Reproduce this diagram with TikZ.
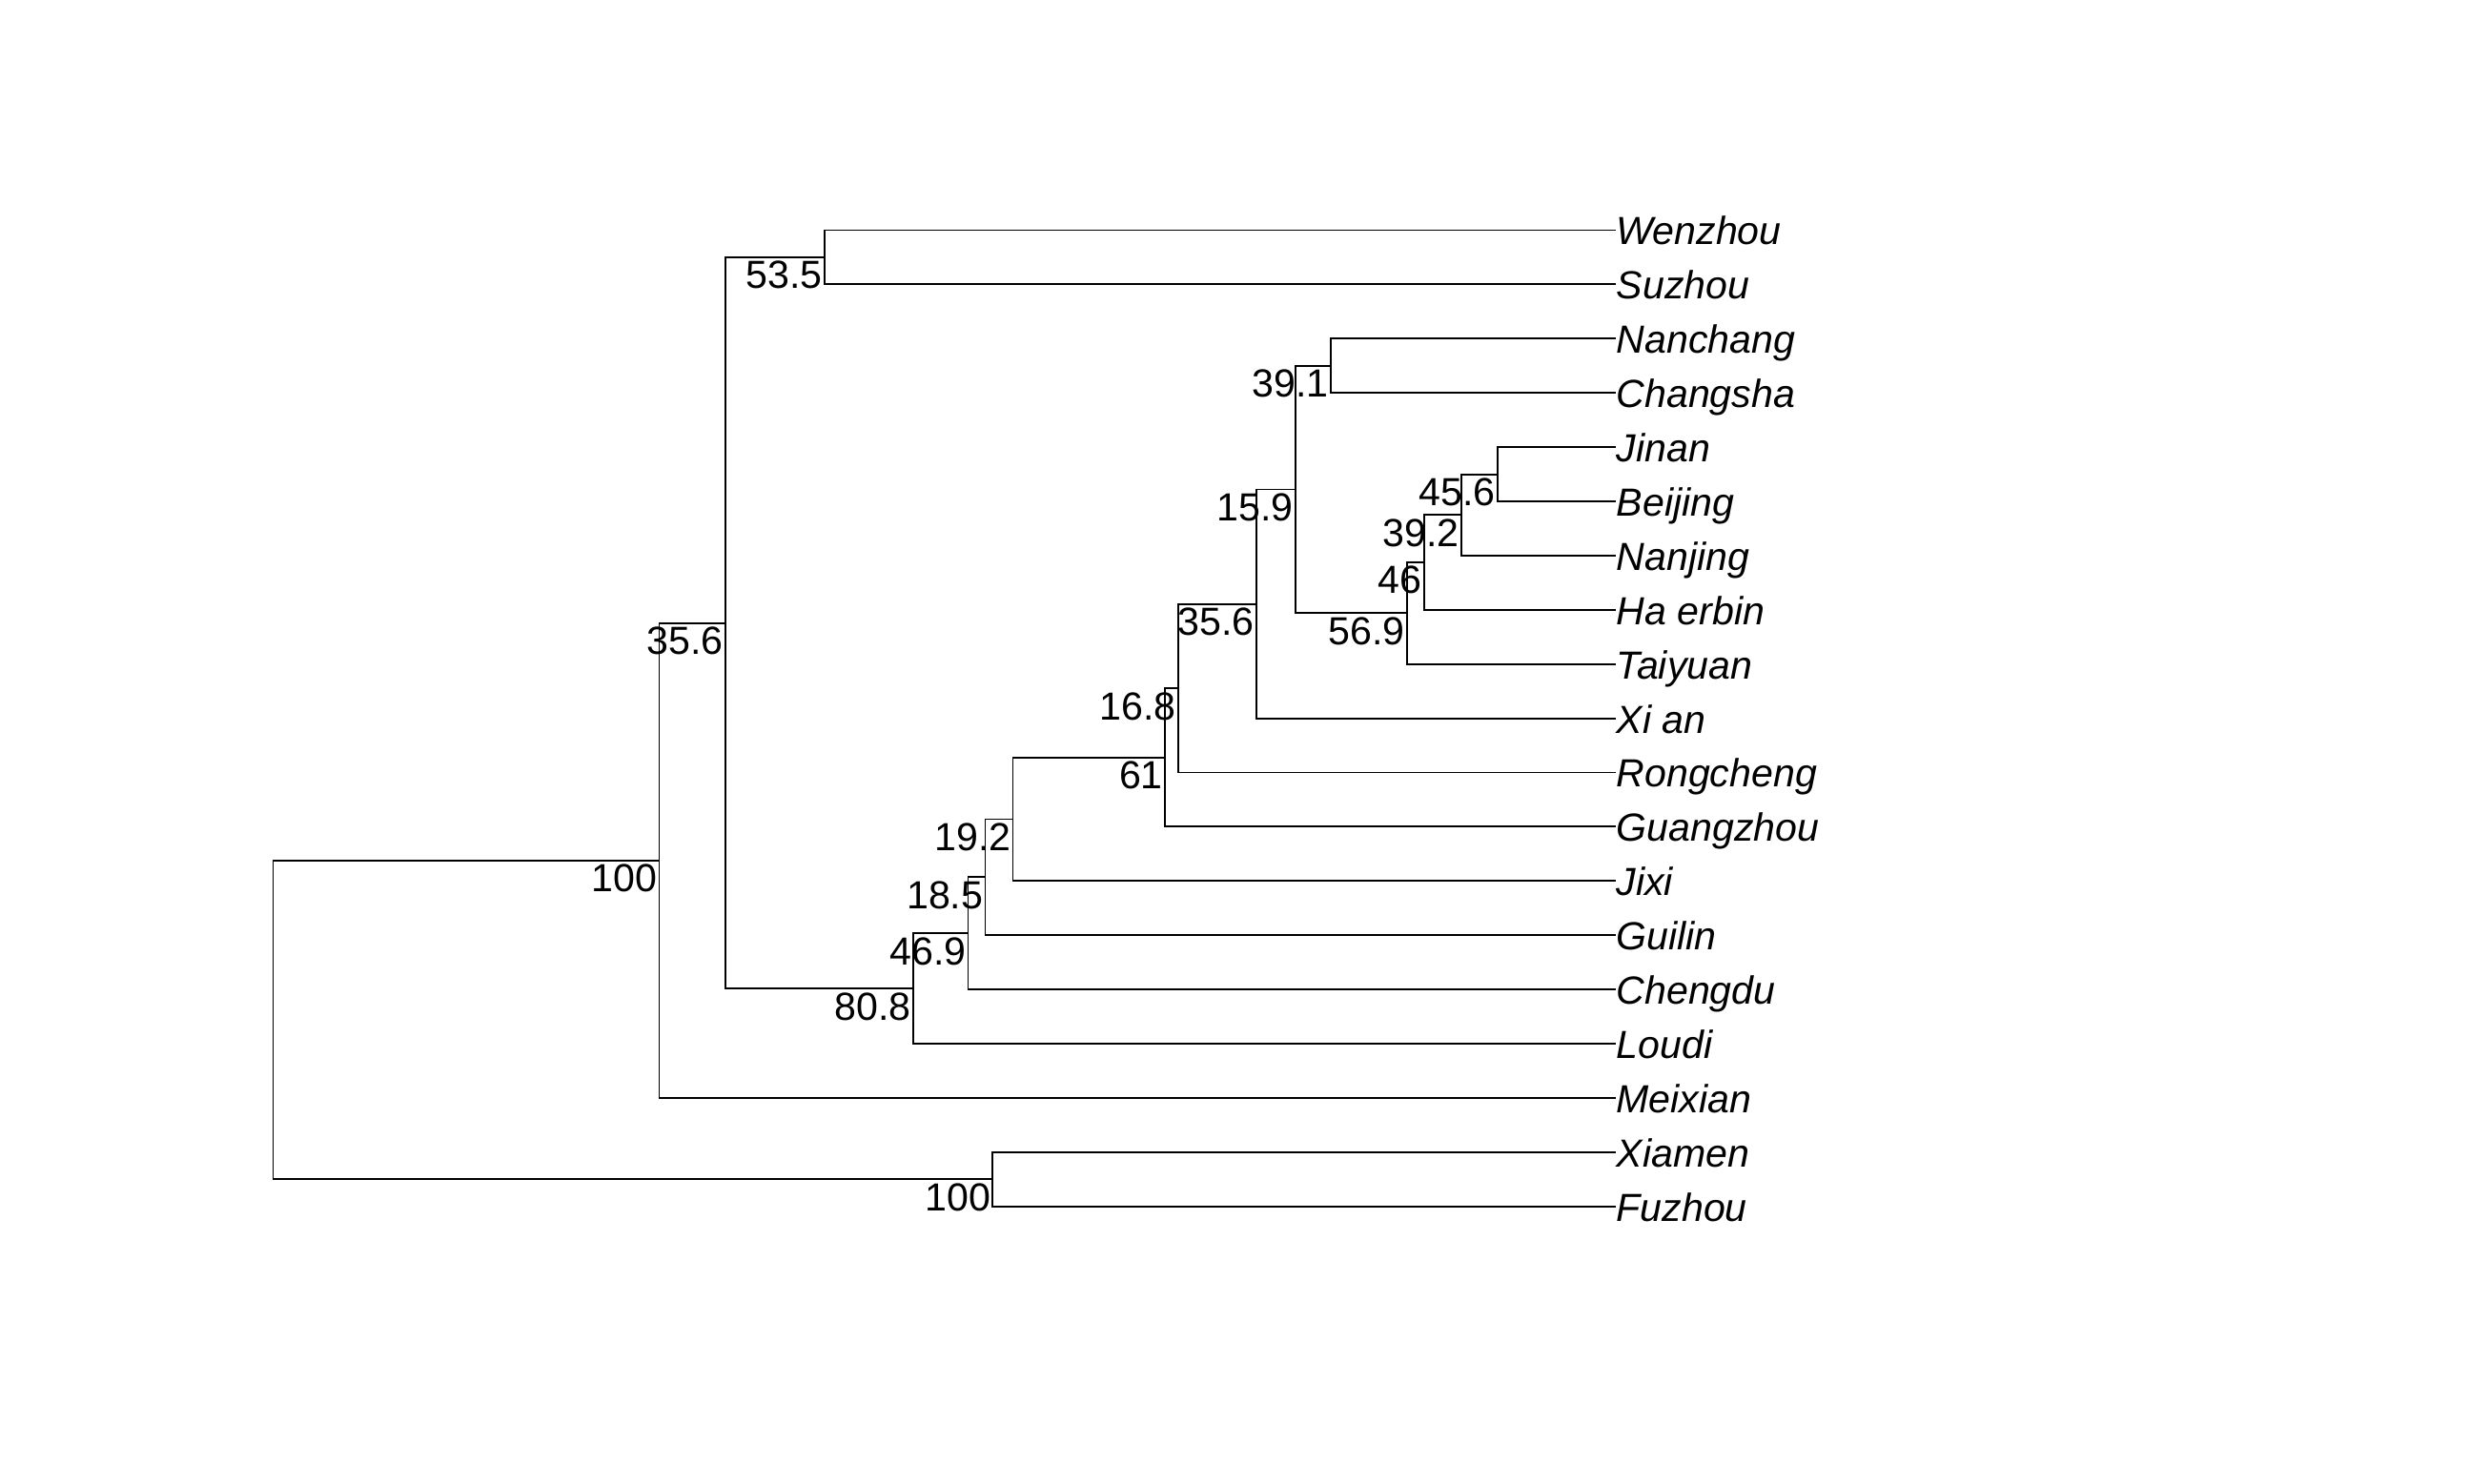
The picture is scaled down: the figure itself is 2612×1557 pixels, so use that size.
\documentclass[tikz,border=0pt]{standalone}
\usepackage{fontspec}
\setmainfont{Liberation Sans}
\usetikzlibrary{positioning}

\newcommand{\treefont}{\fontsize{11.7pt}{14pt}\selectfont}

\begin{document}
\begin{tikzpicture}[
      x=0.1mm, y=-0.1mm,
      br/.style={line width=0.55pt},
      leaf/.style={anchor=west, inner sep=0pt, text height=8.8pt, text depth=0pt,
        font=\treefont\itshape},
      boot/.style={anchor=north east, inner sep=0pt, xshift=-0.15mm, yshift=-0.35mm,
        font=\treefont},
    ]
    \useasboundingbox (0,0) rectangle (2612,1557);

    % tips, top to bottom
    \foreach \nm/\lab [count=\i from 0] in {wenzhou/Wenzhou, suzhou/Suzhou,
        nanchang/Nanchang, changsha/Changsha, jinan/Jinan, beijing/Beijing,
        nanjing/Nanjing, haerbin/Ha erbin, taiyuan/Taiyuan, xian/Xi an,
        rongcheng/Rongcheng, guangzhou/Guangzhou, jixi/Jixi, guilin/Guilin,
        chengdu/Chengdu, loudi/Loudi, meixian/Meixian, xiamen/Xiamen, fuzhou/Fuzhou}
      \node[leaf] (\nm) at (1695, {241.5+56.9*\i}) {\lab};

    % internal nodes
    \coordinate (root)  at (286.5, 1070.3);
    \coordinate (n100a) at (691.5, 902.8);
    \coordinate (n356a) at (761, 653.6);
    \coordinate (n535)  at (865, 270);
    \coordinate (n808)  at (958, 1037.2);
    \coordinate (n469)  at (1015.5, 979.3);
    \coordinate (n185)  at (1033.5, 920.4);
    \coordinate (n192)  at (1062.5, 859.5);
    \coordinate (n61)   at (1222, 794.8);
    \coordinate (n168)  at (1236, 722.1);
    \coordinate (n356b) at (1318, 633.6);
    \coordinate (n159)  at (1359, 513.5);
    \coordinate (n391)  at (1396, 383.8);
    \coordinate (n569)  at (1475.6, 643.3);
    \coordinate (n46)   at (1493.6, 590);
    \coordinate (n392)  at (1533, 540.2);
    \coordinate (n456)  at (1571, 497.6);
    \coordinate (n100b) at (1041.3, 1237.4);

    % branches
    \draw[br] (n100a) -| (root) |- (n100b);
    \draw[br] (n356a) -| (n100a) |- (meixian);
    \draw[br] (n535) -| (n356a) |- (n808);
    \draw[br] (wenzhou) -| (n535) |- (suzhou);
    \draw[br] (n469) -| (n808) |- (loudi);
    \draw[br] (n185) -| (n469) |- (chengdu);
    \draw[br] (n192) -| (n185) |- (guilin);
    \draw[br] (n61) -| (n192) |- (jixi);
    \draw[br] (n168) -| (n61) |- (guangzhou);
    \draw[br] (n356b) -| (n168) |- (rongcheng);
    \draw[br] (n159) -| (n356b) |- (xian);
    \draw[br] (n391) -| (n159) |- (n569);
    \draw[br] (nanchang) -| (n391) |- (changsha);
    \draw[br] (n46) -| (n569) |- (taiyuan);
    \draw[br] (n392) -| (n46) |- (haerbin);
    \draw[br] (n456) -| (n392) |- (nanjing);
    \draw[br] (jinan) -| (n456) |- (beijing);
    \draw[br] (xiamen) -| (n100b) |- (fuzhou);

    % bootstrap values
    \node[boot] (b100a) at (n100a) {100};
    \node[boot] (b356a) at (n356a) {35.6};
    \node[boot] (b535)  at (n535)  {53.5};
    \node[boot] (b808)  at (n808)  {80.8};
    \node[boot] (b469)  at (n469)  {46.9};
    \node[boot] (b185)  at (n185)  {18.5};
    \node[boot] (b192)  at (n192)  {19.2};
    \node[boot] (b61)   at (n61)   {61};
    \node[boot] (b168)  at (n168)  {16.8};
    \node[boot] (b356b) at (n356b) {35.6};
    \node[boot] (b159)  at (n159)  {15.9};
    \node[boot] (b391)  at (n391)  {39.1};
    \node[boot] (b569)  at (n569)  {56.9};
    \node[boot] (b46)   at (n46)   {46};
    \node[boot] (b392)  at (n392)  {39.2};
    \node[boot] (b456)  at (n456)  {45.6};
    \node[boot] (b100b) at (n100b) {100};
  \end{tikzpicture}
\end{document}
